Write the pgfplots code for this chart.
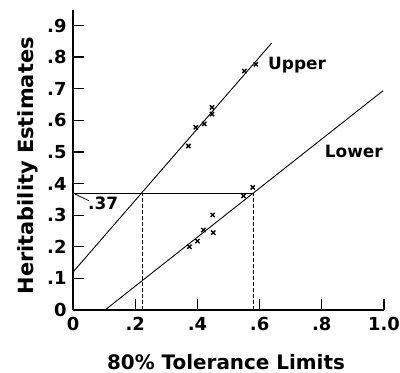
\documentclass[border=0pt]{standalone}
\usepackage{fontspec}
\setmainfont{DejaVu Sans}
\usepackage{pgfplots}
\pgfplotsset{compat=1.18}
\begin{document}
\begin{tikzpicture}
\path[use as bounding box] (-73bp,-63bp) rectangle (327bp,310bp);
\begin{axis}[
  x=311bp, y=316bp,
  anchor=origin, at={(0,0)},
  xmin=0, xmax=1, ymin=0, ymax=0.95,
  axis lines*=left,
  axis line style={line width=1.6pt},
  tick align=inside,
  major tick length=11bp,
  tick style={line width=1.4pt, black},
  xtick={0,0.2,0.4,0.6,0.8,1.0},
  xticklabels={0,.2,.4,.6,.8,1.0},
  ytick={0,0.1,0.2,0.3,0.4,0.5,0.6,0.7,0.8,0.9},
  yticklabels={0,.1,.2,.3,.4,.5,.6,.7,.8,.9},
  /pgf/number format/assume math mode=true,
  ticklabel style={font=\fontsize{18}{18}\selectfont\bfseries},
  xticklabel style={yshift=-4bp},
  yticklabel style={xshift=-3bp},
  xlabel={80\% Tolerance Limits},
  ylabel={Heritability Estimates},
  xlabel style={font=\fontsize{20}{20}\selectfont\bfseries, at={(axis description cs:0.492,-0.173)}, anchor=center},
  ylabel style={font=\fontsize{21}{21}\selectfont\bfseries, at={(axis description cs:-0.145,0.48)}, anchor=center, rotate=0},
  clip=false,
]
% fitted lines
\addplot[black, line width=0.9pt] coordinates {(0,0.12) (0.639,0.845)};
\addplot[black, line width=0.9pt] coordinates {(0.103,0) (0.997,0.694)};
% reference lines
\addplot[black, line width=1.1pt] coordinates {(0,0.37) (0.58,0.37)};
\addplot[black, line width=1.0pt, dash pattern=on 4bp off 2bp] coordinates {(0.225,0) (0.225,0.37)};
\addplot[black, line width=1.0pt, dash pattern=on 4bp off 2bp] coordinates {(0.58,0) (0.58,0.37)};
\addplot[black, line width=0.8pt] coordinates {(0.006,0.367) (0.051,0.346)};
% upper points
\addplot[only marks, mark=x, mark size=3bp, mark options={line width=1.4pt}] coordinates {
 (0.371,0.519) (0.395,0.578) (0.422,0.589) (0.447,0.620) (0.447,0.641) (0.551,0.756) (0.588,0.778)};
% lower points
\addplot[only marks, mark=x, mark size=3bp, mark options={line width=1.4pt}] coordinates {
 (0.374,0.200) (0.400,0.218) (0.419,0.253) (0.451,0.245) (0.449,0.301) (0.548,0.361) (0.578,0.388)};
\node[anchor=west, font=\fontsize{17}{17}\selectfont\bfseries, inner sep=0pt] at (axis cs:0.627,0.775) {Upper};
\node[anchor=center, font=\fontsize{17}{17}\selectfont\bfseries, inner sep=0pt] at (axis cs:0.903,0.503) {Lower};
\node[anchor=west, font=\fontsize{17}{17}\selectfont\bfseries, inner sep=0pt] at (axis cs:0.048,0.337) {.37};
\end{axis}
\end{tikzpicture}
\end{document}
